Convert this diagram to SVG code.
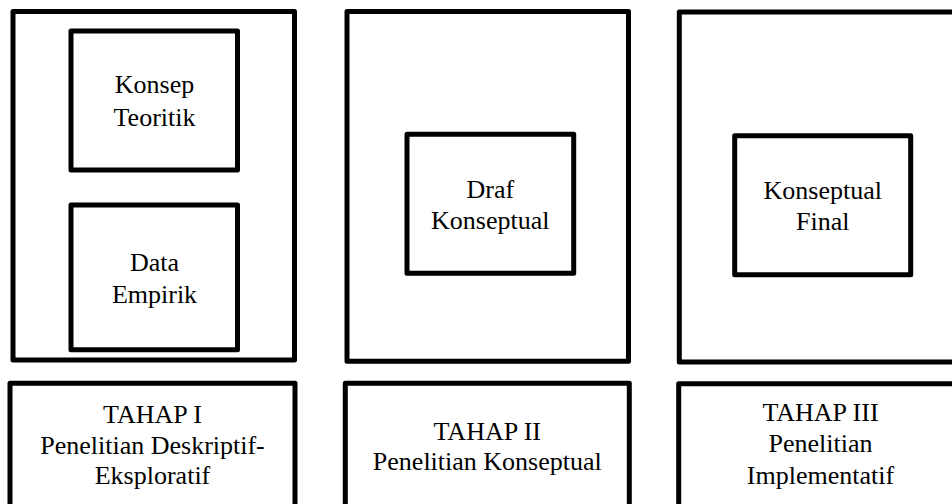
<svg xmlns="http://www.w3.org/2000/svg" width="952" height="504" viewBox="0 0 952 504">
<style>
rect{fill:#fff;stroke:#000;stroke-width:5;stroke-linejoin:round}
text{font-size:26px;fill:#000;text-anchor:middle}
</style>
<rect x="0" y="0" width="952" height="504" style="stroke:none"/>
<g font-family="'Liberation Serif', 'Times New Roman', 'DejaVu Serif', serif">
<g id="stage1">
<rect x="13" y="11.5" width="281.5" height="348.5"/>
<g id="konsep-teoritik">
<rect x="71" y="31" width="166.5" height="139"/>
<text x="154.5" y="93">Konsep</text>
<text x="154.5" y="126">Teoritik</text>
</g>
<g id="data-empirik">
<rect x="71" y="205" width="166.5" height="144.7"/>
<text x="154.5" y="271">Data</text>
<text x="154.5" y="303">Empirik</text>
</g>
</g>
<g id="stage2">
<rect x="347" y="11.5" width="281.5" height="349.8"/>
<g id="draf-konseptual">
<rect x="407" y="134.3" width="166.7" height="139"/>
<text x="490.3" y="198">Draf</text>
<text x="490.3" y="229">Konseptual</text>
</g>
</g>
<g id="stage3">
<rect x="679.3" y="12" width="281.5" height="350"/>
<g id="konseptual-final">
<rect x="734.7" y="135.7" width="176" height="139"/>
<text x="822.7" y="199">Konseptual</text>
<text x="822.7" y="230">Final</text>
</g>
</g>
<g id="tahap1">
<rect x="10" y="383.3" width="285" height="140"/>
<text x="152.5" y="423">TAHAP I</text>
<text x="152.5" y="454">Penelitian Deskriptif-</text>
<text x="152.5" y="484">Eksploratif</text>
</g>
<g id="tahap2">
<rect x="345.3" y="383.3" width="284" height="140"/>
<text x="487.3" y="440">TAHAP II</text>
<text x="487.3" y="470">Penelitian Konseptual</text>
</g>
<g id="tahap3">
<rect x="678.7" y="383.7" width="284" height="140"/>
<text x="820.5" y="421">TAHAP III</text>
<text x="820.5" y="452">Penelitian</text>
<text x="820.5" y="484">Implementatif</text>
</g>
</g>
<g id="connectors"></g>
</svg>
